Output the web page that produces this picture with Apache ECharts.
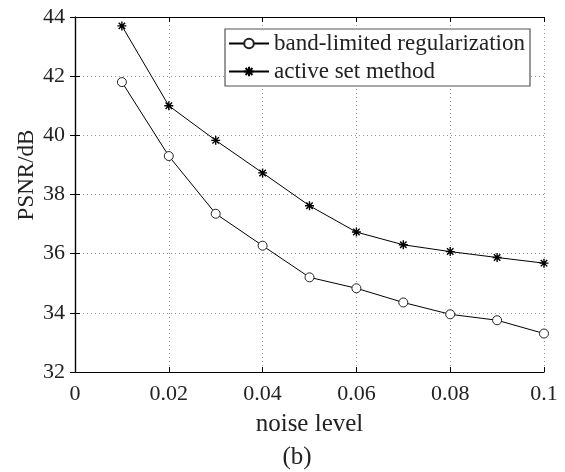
<!DOCTYPE html>
<html>
<head>
<meta charset="utf-8">
<script src="https://cdn.jsdelivr.net/npm/echarts@6/dist/echarts.min.js"></script>
<style>
  html, body { margin: 0; padding: 0; background: #fff; }
  #main { width: 565px; height: 472px; }
</style>
</head>
<body>
<div id="main"></div>
<script>
var noise = [0.01, 0.02, 0.03, 0.04, 0.05, 0.06, 0.07, 0.08, 0.09, 0.1];
var bandLimited = [41.8, 39.3, 37.35, 36.27, 35.2, 34.83, 34.35, 33.95, 33.75, 33.3];
var activeSet = [43.7, 41.0, 39.83, 38.73, 37.62, 36.73, 36.3, 36.07, 35.87, 35.68];
var xTicks = ['0', '0.02', '0.04', '0.06', '0.08', '0.1'];

var font = '"Liberation Serif", "DejaVu Serif", serif';
var star = 'path://M0,-5L0,5M-5,0L5,0M-3.6,-3.6L3.6,3.6M-3.6,3.6L3.6,-3.6';

function pairs(ys) {
  return noise.map(function (x, i) { return [x, ys[i]]; });
}

var chart = echarts.init(document.getElementById('main'));

var axisLine = { show: true, lineStyle: { color: '#000', width: 1.2 } };
var tick = { show: true, inside: true, length: 5, lineStyle: { color: '#000' } };
var gridLine = { show: true, lineStyle: { color: '#999', type: [1, 3], width: 1 } };

chart.setOption({
  animation: false,
  backgroundColor: '#fff',
  textStyle: { fontFamily: font },
  grid: { left: 75, right: 21, top: 17, bottom: 100 },
  legend: {
    left: 225, top: 29,
    orient: 'vertical',
    backgroundColor: '#fff',
    borderColor: '#555',
    borderWidth: 1.2,
    borderRadius: 0,
    padding: [3, 5, 3, 3],
    itemGap: 5,
    itemWidth: 40,
    itemHeight: 12,
    textStyle: { fontFamily: font, fontSize: 23, color: '#222' },
    data: ['band-limited regularization', 'active set method']
  },
  xAxis: [{
    type: 'value', min: 0, max: 0.1, interval: 0.02,
    axisLine: axisLine, axisTick: tick,
    splitLine: gridLine,
    axisLabel: {
      margin: 11, fontSize: 22, color: '#222', fontFamily: font,
      formatter: function (v) { return xTicks[Math.round(v / 0.02)]; }
    },
    name: 'noise level', nameLocation: 'middle', nameGap: 40,
    nameTextStyle: { fontSize: 25, color: '#222', fontFamily: font }
  }, {
    type: 'value', min: 0, max: 0.1, interval: 0.02, position: 'top',
    axisLine: axisLine, axisTick: tick,
    axisLabel: { show: false }, splitLine: { show: false }
  }],
  yAxis: [{
    type: 'value', min: 32, max: 44, interval: 2,
    axisLine: axisLine, axisTick: tick,
    splitLine: gridLine,
    axisLabel: { margin: 10, fontSize: 22, color: '#222', fontFamily: font }
  }, {
    type: 'value', min: 32, max: 44, interval: 2, position: 'right',
    axisLine: axisLine, axisTick: tick,
    axisLabel: { show: false }, splitLine: { show: false }
  }],
  graphic: [{
    type: 'text', x: 27, y: 175, rotation: Math.PI / 2,
    style: { text: 'PSNR/dB', font: '23px ' + font, fill: '#222', align: 'center', verticalAlign: 'middle' }
  }, {
    type: 'text', x: 297, y: 457,
    style: { text: '(b)', font: '25px ' + font, fill: '#222', align: 'center', verticalAlign: 'middle' }
  }],
  series: [{
    name: 'band-limited regularization',
    type: 'line',
    data: pairs(bandLimited),
    symbol: 'circle', symbolSize: 9,
    lineStyle: { color: '#000', width: 1 },
    itemStyle: { color: '#fff', borderColor: '#222', borderWidth: 1 }
  }, {
    name: 'active set method',
    type: 'line',
    data: pairs(activeSet),
    symbol: star, symbolSize: 9,
    lineStyle: { color: '#000', width: 1 },
    itemStyle: { color: '#000', borderColor: '#000', borderWidth: 1.4 }
  }]
});
</script>
</body>
</html>
